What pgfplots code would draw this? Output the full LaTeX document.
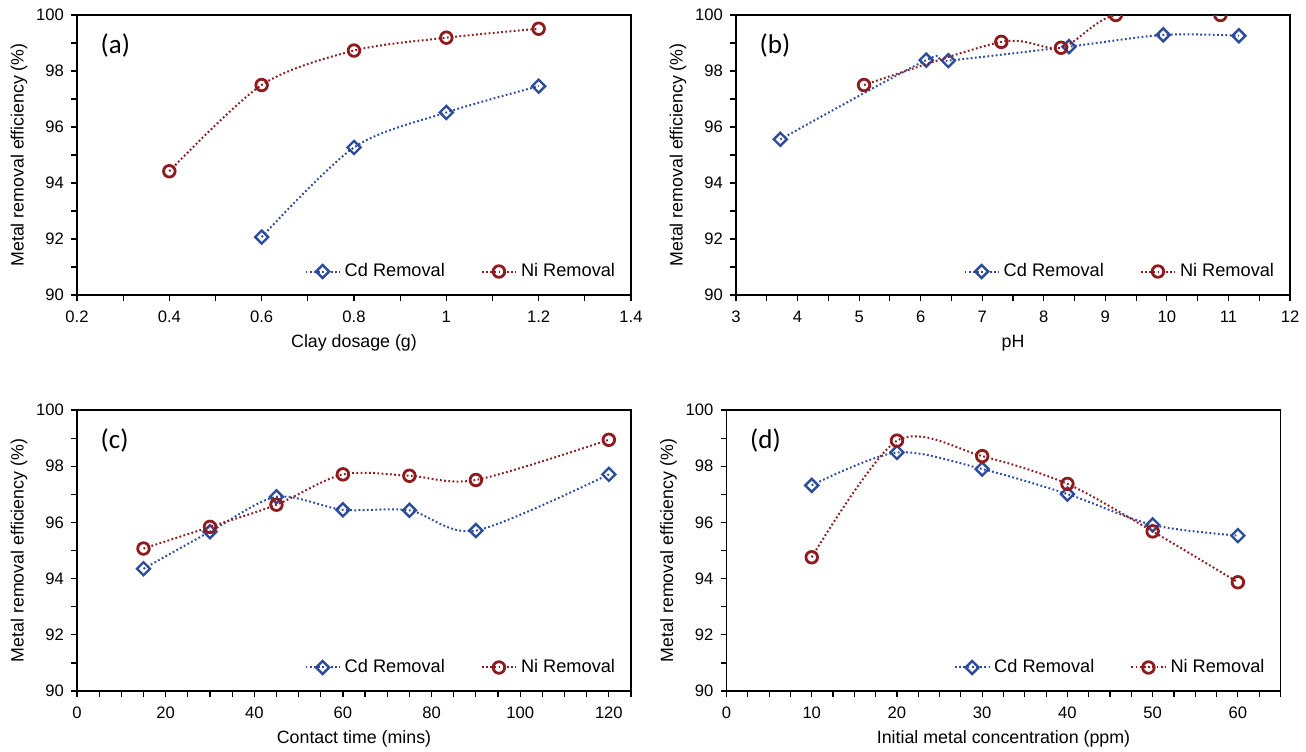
\documentclass[border=0pt]{standalone}
\usepackage{fontspec}
\setmainfont{Liberation Sans}
\newfontfamily\panelfont{Carlito}
\usepackage{pgfplots}
\pgfplotsset{compat=1.18}

\definecolor{cdblue}{HTML}{2C4C9C}
\definecolor{nired}{HTML}{8E1C1E}

\pgfplotsset{
  panel/.style={
    scale only axis, width=277pt, height=140pt,
    ymin=90, ymax=100, ytick={90,92,...,100}, minor y tick num=1,
    tick align=outside, tick pos=left,
    major tick length=3pt, minor tick length=3pt,
    every tick/.style={black, line width=0.6pt},
    axis line style={line width=0.7pt},
    /pgf/number format/assume math mode=true,
    tick label style={font=\fontsize{8.3}{9}\selectfont},
    xticklabel style={yshift=-1.5pt},
    ylabel={Metal removal efficiency (\%)},
    every axis y label/.style={at={([xshift=-29pt]axis description cs:0,0.5)}, rotate=90, anchor=center, font=\fontsize{8.9}{10}\selectfont},
    every axis x label/.style={at={([yshift=-24pt]axis description cs:0.5,0)}, anchor=center, font=\fontsize{8.9}{10}\selectfont},
    clip marker paths=true,
    legend columns=2,
    legend style={draw=none, fill=none, font=\fontsize{9.1}{10}\selectfont,
      at={(rel axis cs:0.99,0.025)}, anchor=south east,
      /tikz/every even column/.append style={column sep=16pt}},
  },
  cd/.style={cdblue, smooth, line width=1pt, dash pattern=on 0.9pt off 1.2pt,
    mark=square, mark size=2.3pt, mark options={solid, rotate=45, line width=1.2pt, fill=none}},
  ni/.style={nired, smooth, line width=1pt, dash pattern=on 0.9pt off 1.2pt,
    mark=o, mark size=2.9pt, mark options={solid, line width=1.4pt, fill=none}},
}

\begin{document}
\begin{tikzpicture}
\useasboundingbox (0,0) rectangle (653pt,-375.5pt);

% (a) clay dosage
\begin{axis}[panel, at={(38.5pt,-147.5pt)}, anchor=south west,
  xmin=0.2, xmax=1.4, xtick={0.2,0.4,0.6,0.8,1,1.2,1.4},
  xticklabels={0.2,0.4,0.6,0.8,1,1.2,1.4}, minor x tick num=1,
  xlabel={Clay dosage (g)}]
\addplot[cd] coordinates {(0.6,92.07) (0.8,95.27) (1.0,96.52) (1.2,97.46)};
\addlegendentry{Cd Removal}
\addplot[ni] coordinates {(0.4,94.42) (0.6,97.50) (0.8,98.73) (1.0,99.19) (1.2,99.51)};
\addlegendentry{Ni Removal}
\node[anchor=west, font=\panelfont\fontsize{13.5}{14}\selectfont] at (rel axis cs:0.03,0.89) {(a)};
\end{axis}

% (b) pH
\begin{axis}[panel, at={(368pt,-147.5pt)}, anchor=south west,
  xmin=3, xmax=12, xtick={3,...,12}, minor x tick num=1,
  xlabel={pH}]
\addplot[cd] coordinates {(3.72,95.56) (6.09,98.39) (6.45,98.37) (8.41,98.87) (9.94,99.29) (11.17,99.26)};
\addlegendentry{Cd Removal}
\addplot[ni] coordinates {(5.08,97.50) (7.31,99.04) (8.28,98.83) (9.17,100) (10.87,100)};
\addlegendentry{Ni Removal}
\node[anchor=west, font=\panelfont\fontsize{13.5}{14}\selectfont] at (rel axis cs:0.03,0.89) {(b)};
\end{axis}

% (c) contact time
\begin{axis}[panel, at={(38.5pt,-345.5pt)}, anchor=south west, height=140.5pt,
  xmin=0, xmax=125, xtick={0,20,...,120}, minor xtick={0,5,...,125},
  xlabel={Contact time (mins)}]
\addplot[cd] coordinates {(15,94.35) (30,95.67) (45,96.91) (60,96.45) (75,96.43) (90,95.71) (120,97.71)};
\addlegendentry{Cd Removal}
\addplot[ni] coordinates {(15,95.07) (30,95.84) (45,96.63) (60,97.71) (75,97.66) (90,97.51) (120,98.94)};
\addlegendentry{Ni Removal}
\node[anchor=west, font=\panelfont\fontsize{13.5}{14}\selectfont] at (rel axis cs:0.03,0.89) {(c)};
\end{axis}

% (d) initial concentration
\begin{axis}[panel, at={(363.25pt,-345.5pt)}, anchor=south west, height=140.5pt,
  xmin=0, xmax=65, xtick={0,10,...,60}, minor xtick={0,2.5,...,65},
  xlabel={Initial metal concentration (ppm)}]
\addplot[cd] coordinates {(10,97.32) (20,98.49) (30,97.90) (40,97.01) (50,95.91) (60,95.53)};
\addlegendentry{Cd Removal}
\addplot[ni] coordinates {(10,94.76) (20,98.91) (30,98.36) (40,97.37) (50,95.68) (60,93.87)};
\addlegendentry{Ni Removal}
\node[anchor=west, font=\panelfont\fontsize{13.5}{14}\selectfont] at (rel axis cs:0.03,0.89) {(d)};
\end{axis}
\end{tikzpicture}
\end{document}
